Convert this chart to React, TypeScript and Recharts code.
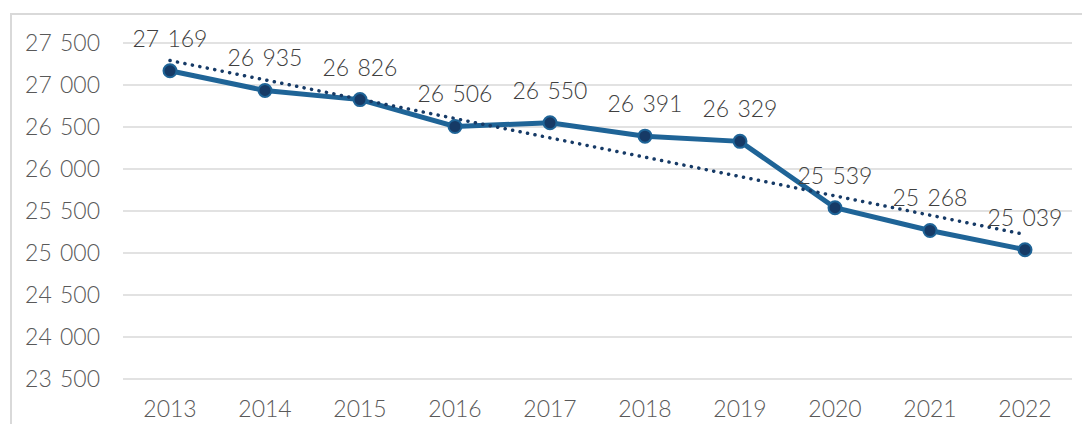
import React from "react";
import { LineChart, Line, XAxis, YAxis, CartesianGrid, LabelList } from "recharts";

const years = ["2013", "2014", "2015", "2016", "2017", "2018", "2019", "2020", "2021", "2022"];
const values = [27169, 26935, 26826, 26506, 26550, 26391, 26329, 25539, 25268, 25039];
// linear trend, read at both ends
const trend = [27291, null, null, null, null, null, null, null, null, 25220];
const yTicks = [23500, 24000, 24500, 25000, 25500, 26000, 26500, 27000, 27500];

const FONT = "Lato, 'Noto Sans', sans-serif";

const fmt = (v: number) => {
  const s = String(Math.round(v));
  return s.length > 3 ? s.slice(0, -3) + " " + s.slice(-3) : s;
};

export default function App() {
  const data = years.map((y, i) => ({ year: y, value: values[i], trend: trend[i] }));

  return (
    <div style={{ position: "relative", width: 1090, height: 432, margin: -8, background: "#fff", overflow: "hidden" }}>
      <div
        style={{
          position: "absolute",
          left: 10,
          top: 13,
          width: 1100,
          height: 440,
          border: "2px solid #d9d9d9",
          boxSizing: "border-box",
        }}
      />
      <div style={{ position: "absolute", left: 0, top: 0 }}>
        <LineChart width={1090} height={432} data={data} margin={{ top: 43, right: 18, left: 0, bottom: 0 }}>
          <CartesianGrid vertical={false} stroke="#d9d9d9" strokeWidth={1.5} />
          <XAxis
            dataKey="year"
            height={53}
            axisLine={false}
            tickLine={false}
            tickMargin={16}
            padding={{ left: 47, right: 47 }}
            tick={{ fill: "#595959", fontSize: 23, fontFamily: FONT, fontWeight: 300 }}
            interval={0}
          />
          <YAxis
            width={123}
            domain={[23500, 27500]}
            ticks={yTicks}
            axisLine={false}
            tickLine={false}
            tickMargin={17}
            tickFormatter={fmt}
            tick={{ fill: "#595959", fontSize: 23, fontFamily: FONT, fontWeight: 300, wordSpacing: 2 }}
          />
          <Line
            dataKey="value"
            stroke="#1f6497"
            strokeWidth={5}
            dot={{ r: 6.5, fill: "#163a66", stroke: "#1f6497", strokeWidth: 2 }}
            isAnimationActive={false}
          >
            <LabelList
              dataKey="value"
              position="top"
              offset={24}
              formatter={(v: any) => fmt(Number(v))}
              style={{ fill: "#404040", fontSize: 23, fontFamily: FONT, fontWeight: 300, wordSpacing: 2 }}
            />
          </Line>
          <Line
            dataKey="trend"
            connectNulls
            stroke="#163a66"
            strokeWidth={3.5}
            strokeDasharray="0.1 7.5"
            strokeLinecap="round"
            dot={false}
            isAnimationActive={false}
          />
        </LineChart>
      </div>
    </div>
  );
}
